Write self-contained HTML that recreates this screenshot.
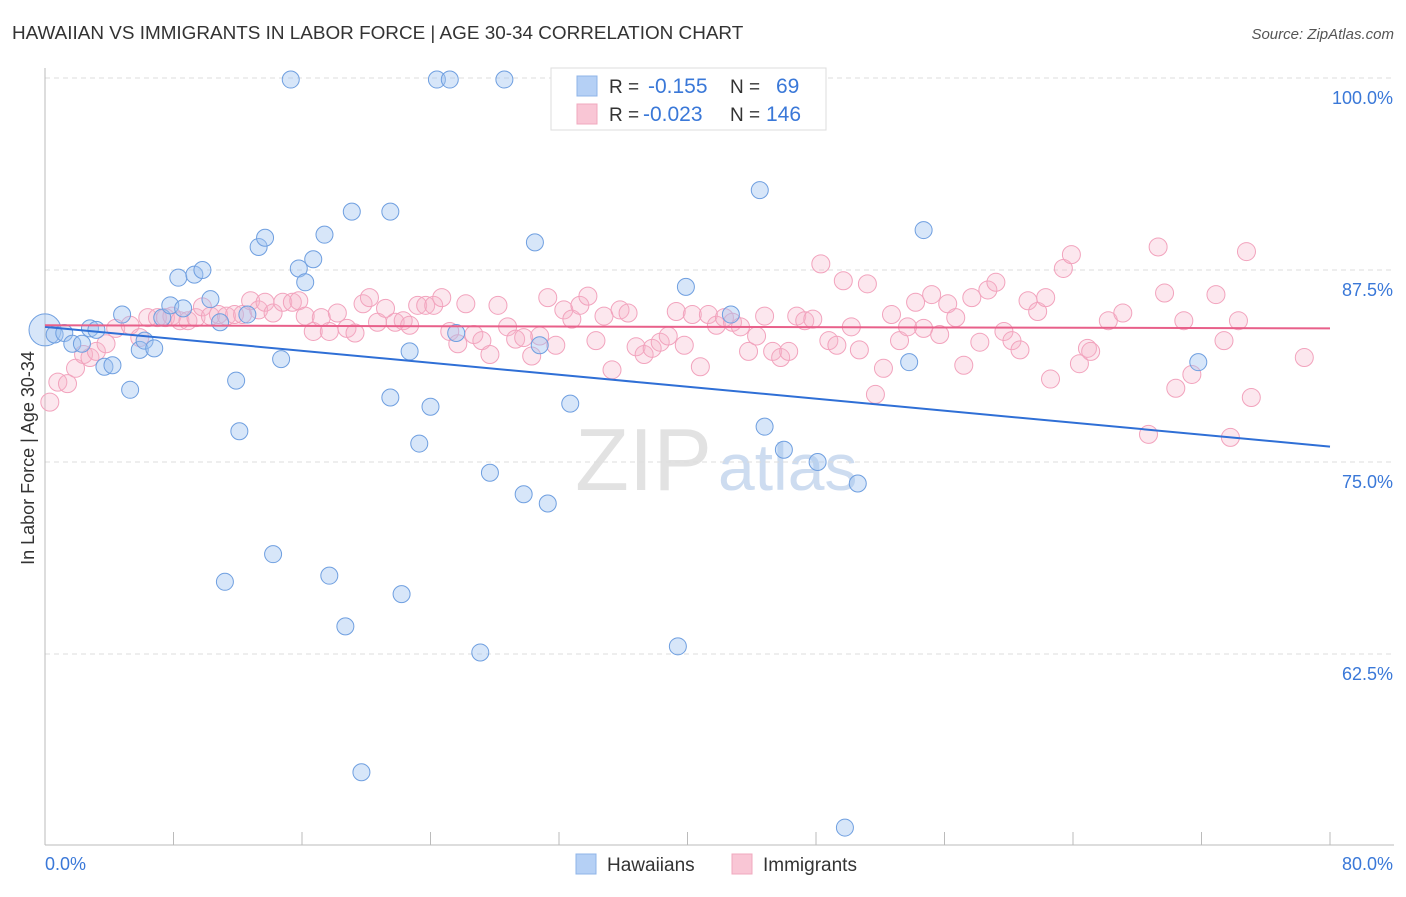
<!DOCTYPE html>
<html><head><meta charset="utf-8"><style>
body{margin:0;background:#fff;font-family:"Liberation Sans",sans-serif;}
svg text{font-family:"Liberation Sans",sans-serif;}
</style></head><body>
<svg id="chart" width="1406" height="892" xmlns="http://www.w3.org/2000/svg">
<text x="12" y="39" font-size="18.9" fill="#333">HAWAIIAN VS IMMIGRANTS IN LABOR FORCE | AGE 30-34 CORRELATION CHART</text>
<text x="1394" y="39" font-size="15" fill="#555" text-anchor="end" font-style="italic">Source: ZipAtlas.com</text>
<text x="712" y="490" font-size="88" fill="#e2e2e2" font-family="Liberation Serif" text-anchor="end">ZIP</text>
<text x="718" y="490" font-size="66" fill="#cddcf0">atlas</text>
<g id="grid"></g><g id="pts"></g><g id="lines"></g>
<text transform="translate(34,458) rotate(-90)" font-size="18" fill="#333" text-anchor="middle">In Labor Force | Age 30-34</text>
<g>
<rect x="551" y="68" width="275" height="62" fill="#fff" stroke="#ddd"/>
<rect x="577" y="76" width="20" height="20" fill="#b5d0f5" stroke="#8fb4e8"/>
<rect x="577" y="104" width="20" height="20" fill="#f9c6d5" stroke="#f0a8be"/>
<text x="609" y="93" font-size="19" fill="#333">R = </text><text x="648" y="93" font-size="21" fill="#3a78d8">-0.155</text>
<text x="730" y="93" font-size="19" fill="#333">N = </text><text x="776" y="93" font-size="21" fill="#3a78d8">69</text>
<text x="609" y="121" font-size="19" fill="#333">R = </text><text x="643" y="121" font-size="21" fill="#3a78d8">-0.023</text>
<text x="730" y="121" font-size="19" fill="#333">N = </text><text x="766" y="121" font-size="21" fill="#3a78d8">146</text>
</g>
<g>
<rect x="576" y="854" width="20" height="20" fill="#b5d0f5" stroke="#8fb4e8"/>
<text x="607" y="871" font-size="19" fill="#333">Hawaiians</text>
<rect x="732" y="854" width="20" height="20" fill="#f9c6d5" stroke="#f0a8be"/>
<text x="763" y="871" font-size="19" fill="#333">Immigrants</text>
</g>
</svg>
<script>
const yTicks=[100,87.5,75,62.5];
const yTickLabels=["100.0%","87.5%","75.0%","62.5%"];
const xEndLabels=["0.0%","80.0%"];
const hawX=[0,0.6,1.2,1.7,2.3,2.8,3.2,3.7,4.2,4.8,5.3,5.9,6.2,6.8,7.3,7.8,8.3,8.6,9.3,9.8,10.3,10.9,11.2,11.9,12.1,12.6,13.3,13.7,14.2,14.7,15.3,15.8,16.2,16.7,17.4,17.7,18.7,19.1,19.7,21.5,21.5,22.2,22.7,23.3,24.0,24.4,25.2,25.6,27.1,27.7,28.6,29.8,30.5,30.8,31.3,32.7,33.3,39.4,39.9,42.7,44.5,44.8,46.0,48.1,49.8,50.6,53.8,54.7,71.8];
const hawY=[83.6,83.3,83.4,82.7,82.7,83.7,83.6,81.2,81.3,84.6,79.7,82.3,82.9,82.4,84.4,85.2,87.0,85.0,87.2,87.5,85.6,84.1,67.2,80.3,77.0,84.6,89.0,89.6,69.0,81.7,99.9,87.6,86.7,88.2,89.8,67.6,64.3,91.3,54.8,91.3,79.2,66.4,82.2,76.2,78.6,99.9,99.9,83.4,62.6,74.3,99.9,72.9,89.3,82.6,72.3,78.8,99.9,63.0,86.4,84.6,92.7,77.3,75.8,75.0,51.2,73.6,81.5,90.1,81.5];
const immX=[0.3,0.8,1.4,1.9,2.4,2.8,3.2,3.8,4.4,5.3,5.9,6.4,7.0,7.5,7.9,8.4,8.9,9.4,9.8,10.3,10.8,11.3,11.8,12.3,12.8,13.3,13.7,14.2,14.8,15.4,15.8,16.2,16.7,17.2,17.7,18.2,18.8,19.3,19.8,20.2,20.7,21.2,21.8,22.3,22.7,23.2,23.7,24.2,24.7,25.2,25.7,26.2,26.7,27.2,27.7,28.2,28.8,29.3,29.8,30.3,30.8,31.3,31.8,32.3,32.8,33.3,33.8,34.3,34.8,35.3,35.8,36.3,36.8,37.3,37.8,38.3,38.8,39.3,39.8,40.3,40.8,41.3,41.8,42.3,42.8,43.3,43.8,44.3,44.8,45.3,45.8,46.3,46.8,47.3,47.8,48.3,48.8,49.3,49.7,50.2,50.7,51.2,51.7,52.2,52.7,53.2,53.7,54.2,54.7,55.2,55.7,56.2,56.7,57.2,57.7,58.2,58.7,59.2,59.7,60.2,60.7,61.2,61.8,62.3,62.6,63.4,63.9,64.4,64.9,65.1,66.2,67.1,68.7,69.3,69.7,70.4,70.9,71.4,72.9,73.4,73.8,74.3,74.8,75.1,78.4];
const immY=[78.9,80.2,80.1,81.1,82.0,81.8,82.2,82.7,83.7,83.9,83.1,84.4,84.4,84.4,84.5,84.2,84.2,84.4,85.1,84.5,84.6,84.5,84.6,84.6,85.5,84.9,85.4,84.7,85.4,85.4,85.5,84.5,83.5,84.4,83.5,84.7,83.7,83.4,85.3,85.7,84.1,85.0,84.1,84.2,83.9,85.2,85.2,85.2,85.7,83.5,82.7,85.3,83.3,82.9,82.0,85.2,83.8,83.0,83.1,81.9,83.2,85.7,82.6,84.9,84.3,85.2,85.8,82.9,84.5,81.0,84.9,84.7,82.5,82.0,82.4,82.8,83.2,84.8,82.6,84.6,81.2,84.6,83.9,84.4,84.1,83.8,82.2,83.2,84.5,82.2,81.8,82.2,84.5,84.2,84.3,87.9,82.9,82.6,86.8,83.8,82.3,86.6,79.4,81.1,84.6,82.9,83.8,85.4,83.7,85.9,83.3,85.3,84.4,81.3,85.7,82.8,86.2,86.7,83.5,82.9,82.3,85.5,84.8,85.7,80.4,87.6,88.5,81.4,82.4,82.2,84.2,84.7,76.8,89.0,86.0,79.8,84.2,80.7,85.9,82.9,76.6,84.2,88.7,79.2,81.8];
const hawLine=[83.8,76.0];
const immLine=[83.9,83.7];

const NS="http://www.w3.org/2000/svg";
const X0=45,X1=1330,Y100=78,PXPER=15.36;
const sx=v=>X0+(v/80)*(X1-X0);
const sy=v=>Y100+(100-v)*PXPER;
function mk(tag,attrs,parent){const e=document.createElementNS(NS,tag);for(const k in attrs)e.setAttribute(k,attrs[k]);parent.appendChild(e);return e;}
const grid=document.getElementById('grid');
yTicks.forEach((t,i)=>{
  const l=mk('line',{x1:X0,x2:1394,y1:sy(t),y2:sy(t),stroke:'#ddd','stroke-dasharray':'5,4'},grid);
  
  
  const tx=mk('text',{x:1393,y:sy(t)+26,'font-size':18,fill:'#3a78d8','text-anchor':'end'},grid);
  tx.textContent=yTickLabels[i];
  
  
});
const ax=mk('line',{x1:X0,x2:X0,y1:68,y2:845,stroke:'#bbb'},grid);


const bx=mk('line',{x1:X0,x2:1394,y1:845,y2:845,stroke:'#bbb'},grid);


for(let i=0;i<=10;i++){
  const t=mk('line',{x1:sx(i*8),x2:sx(i*8),y1:832,y2:845,stroke:'#bbb'},grid);
  
  
}
[[0,'start',xEndLabels[0]],[80,'end',xEndLabels[1]]].forEach(([v,a,s])=>{
  const t=mk('text',{x:sx(v)+(a==='end'?63:0),y:870,'font-size':18,fill:'#3a78d8','text-anchor':a},grid);
  t.textContent=s;
  
  
});
const pts=document.getElementById('pts');
immX.forEach((x,i)=>{
  const c=mk('circle',{cx:sx(x),cy:sy(immY[i]),r:9,fill:'rgba(246,180,202,0.32)',stroke:'#f2a3bd','stroke-width':1},pts);
  
  
});
hawX.forEach((x,i)=>{
  const c=mk('circle',{cx:sx(x),cy:sy(hawY[i]),r:i===0?16:8.5,fill:'rgba(160,196,240,0.42)',stroke:'#6f9fe0','stroke-width':1},pts);
  
  
});
const lines=document.getElementById('lines');
const l1=mk('line',{x1:sx(0),y1:sy(hawLine[0]),x2:sx(80),y2:sy(hawLine[1]),stroke:'#2f6fd6','stroke-width':2},lines);


const l2=mk('line',{x1:sx(0),y1:sy(immLine[0]),x2:sx(80),y2:sy(immLine[1]),stroke:'#e8608a','stroke-width':2},lines);


</script>
</body></html>
